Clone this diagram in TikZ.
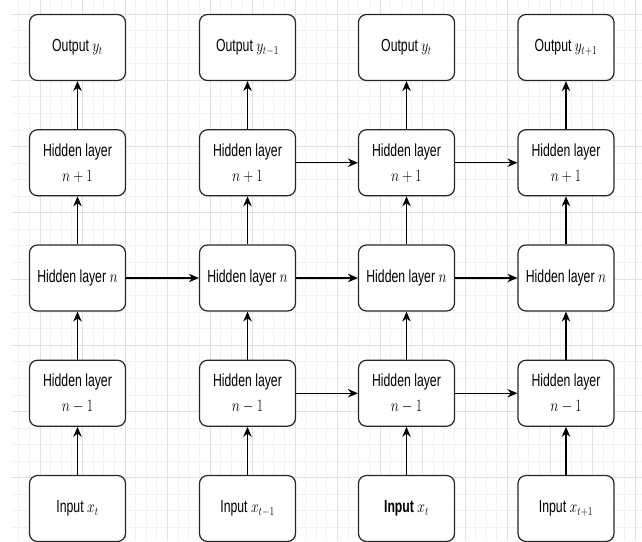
\documentclass[tikz,border=0pt]{standalone}
\usepackage{fontspec}
\setsansfont[FakeStretch=0.7]{Liberation Sans}
\usepackage{graphicx}
\usetikzlibrary{arrows.meta}
\definecolor{gridminor}{HTML}{F2F2F2}
\definecolor{gridmajor}{HTML}{E2E2E2}
\newcommand{\nm}[1]{\scalebox{0.8}[1]{$#1$}}

\begin{document}
\begin{tikzpicture}[->,>={Stealth[length=10pt,width=8.5pt]},line width=1.2pt,x=1pt,y=1pt,
            node distance=115.25pt,
            layer/.style={draw=black!85,fill=white,rounded corners=8pt,minimum width=96pt,
            minimum height=66pt,align=center,font=\sffamily\fontsize{17.5}{25}\selectfont}]

        % Background grid
        \useasboundingbox (0,0) rectangle (642,-541);
        \begin{scope}[shift={(40,-14)},-,line width=0.8pt]
            \draw[gridminor,xstep=10.625pt,ystep=16.5625pt] (-29,-527) grid (602,14);
            \draw[gridmajor,xstep=42.5pt,ystep=66.25pt] (-29,-527) grid (602,14);
        \end{scope}

        % Define layers, column t
        \node[layer] (out1) at (77.5,-47.5) {Output \nm{y_t}};
        \node[layer] (up1) [below of=out1] {Hidden layer\\ \nm{n+1}};
        \node[layer] (mid1) [below of=up1] {Hidden layer \nm{n}};
        \node[layer] (low1) [below of=mid1] {Hidden layer\\ \nm{n-1}};
        \node[layer] (in1) [below of=low1] {Input \nm{x_t}};

        % Column t-1
        \node[layer] (out2) [node distance=170pt,right of=out1] {Output \nm{y_{t-1}}};
        \node[layer] (up2) [below of=out2] {Hidden layer\\ \nm{n+1}};
        \node[layer] (mid2) [below of=up2] {Hidden layer \nm{n}};
        \node[layer] (low2) [below of=mid2] {Hidden layer\\ \nm{n-1}};
        \node[layer] (in2) [below of=low2] {Input \nm{x_{t-1}}};

        % Column t
        \node[layer] (out3) [node distance=159pt,right of=out2] {Output \nm{y_t}};
        \node[layer] (up3) [below of=out3] {Hidden layer\\ \nm{n+1}};
        \node[layer] (mid3) [below of=up3] {Hidden layer \nm{n}};
        \node[layer] (low3) [below of=mid3] {Hidden layer\\ \nm{n-1}};
        \node[layer] (in3) [below of=low3] {\bfseries Input \nm{x_t}};

        % Column t+1
        \node[layer] (out4) [node distance=159.5pt,right of=out3] {Output \nm{y_{t+1}}};
        \node[layer] (up4) [below of=out4] {Hidden layer\\ \nm{n+1}};
        \node[layer] (mid4) [below of=up4] {Hidden layer \nm{n}};
        \node[layer] (low4) [below of=mid4] {Hidden layer\\ \nm{n-1}};
        \node[layer] (in4) [below of=low4] {Input \nm{x_{t+1}}};

        % Draw edges
        \path
            (in1) edge (low1)
            (low1) edge (mid1)
            (mid1) edge (up1)
            (up1) edge (out1)
            (in2) edge (low2)
            (low2) edge (mid2)
            (mid2) edge (up2)
            (up2) edge (out2)
            (in3) edge (low3)
            (low3) edge (mid3)
            (mid3) edge (up3)
            (up3) edge (out3)
            (in4) edge (low4)
            (low4) edge (mid4)
            (mid4) edge (up4)
            (up4) edge (out4)
            (mid1) edge (mid2)
            (mid2) edge (mid3)
            (mid3) edge (mid4)
            (up2) edge (up3)
            (up3) edge (up4)
            (low2) edge (low3)
            (low3) edge (low4);

        \end{tikzpicture}
\end{document}
